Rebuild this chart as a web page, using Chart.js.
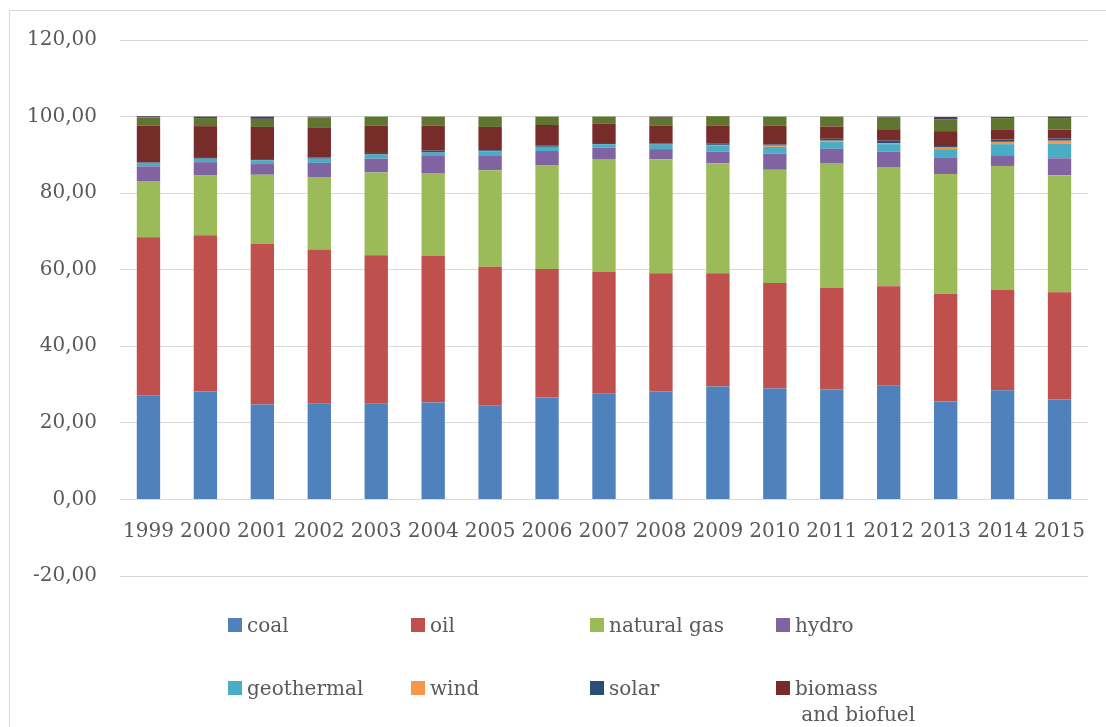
<!DOCTYPE html>
<html lang="en">
<head>
  <meta charset="UTF-8">
  <title>Energy mix 1999-2015</title>
  <script src="https://cdn.jsdelivr.net/npm/chart.js"></script>
  <style>
    body {
      margin: 0;
      background: #fff;
      font-family: "DejaVu Serif", serif;
    }
    #wrap {
      position: relative;
      width: 1106px;
      height: 727px;
      overflow: hidden;
    }
    #frame {
      position: absolute;
      left: 9px;
      top: 10px;
      width: 1200px;
      height: 760px;
      border: 1px solid #d9d9d9;
    }
    #chart {
      position: absolute;
      left: 0;
      top: 0;
    }
    .legend-item {
      position: absolute;
      font-size: 20px;
      color: #595959;
      line-height: 26px;
      white-space: nowrap;
    }
    .legend-item .box {
      position: absolute;
      left: 0;
      top: 6px;
      width: 14px;
      height: 14px;
    }
    .legend-item .txt {
      display: block;
      margin-left: 19px;
    }
  </style>
</head>
<body>

<div id="wrap">
  <div id="frame"></div>
  <canvas id="chart" width="1106" height="727"></canvas>
  <div id="legend"></div>
</div>

<script>
const years = ['1999','2000','2001','2002','2003','2004','2005','2006','2007','2008','2009','2010','2011','2012','2013','2014','2015'];

const coal       = [27.2, 28.2, 24.8, 25.0, 25.0, 25.3, 24.5, 26.6, 27.6, 28.2, 29.5, 29.0, 28.7, 29.7, 25.6, 28.5, 26.1];
const oil        = [41.3, 40.8, 41.9, 40.3, 38.8, 38.3, 36.3, 33.6, 31.8, 30.9, 29.6, 27.5, 26.6, 26.0, 28.1, 26.2, 28.0];
const naturalGas = [14.5, 15.6, 18.1, 18.9, 21.6, 21.5, 25.2, 27.0, 29.5, 29.7, 28.7, 29.6, 32.4, 31.1, 31.3, 32.4, 30.6];
const hydro      = [4.0, 3.5, 2.8, 3.7, 3.6, 4.6, 3.7, 3.8, 3.0, 2.7, 3.0, 4.2, 3.9, 4.0, 4.2, 2.8, 4.4];
const geothermal = [0.9, 0.9, 1.0, 1.1, 1.1, 0.9, 1.2, 1.1, 0.9, 1.2, 1.7, 1.8, 1.8, 2.0, 2.3, 2.9, 3.9];
const wind       = [0.0, 0.0, 0.0, 0.0, 0.0, 0.0, 0.0, 0.0, 0.0, 0.0, 0.1, 0.3, 0.3, 0.3, 0.4, 0.6, 0.7];
const solar      = [0.1, 0.2, 0.3, 0.3, 0.4, 0.5, 0.3, 0.4, 0.3, 0.3, 0.3, 0.3, 0.5, 0.6, 0.4, 0.6, 0.6];
const biomass    = [9.6, 8.3, 8.4, 7.9, 7.1, 6.5, 6.1, 5.3, 5.0, 4.7, 4.8, 4.9, 3.2, 3.0, 3.9, 2.5, 2.3];
const nuclear    = [2.2, 2.1, 2.1, 2.6, 2.4, 2.4, 2.7, 2.2, 1.9, 2.2, 2.4, 2.4, 2.6, 3.0, 3.0, 3.1, 3.0];
const other      = [0.3, 0.4, 0.6, 0.2, 0.0, 0.0, 0.0, 0.0, 0.0, 0.1, 0.0, 0.0, 0.0, 0.3, 0.7, 0.3, 0.4];

const yTicks = { min: -20, max: 120, step: 20 };

// series shown in the legend (the last two are cut off in the original)
const series = [
  { label: 'coal', data: coal, color: '#4f81bd', legend: true },
  { label: 'oil', data: oil, color: '#c0504d', legend: true },
  { label: 'natural gas', data: naturalGas, color: '#9bbb59', legend: true },
  { label: 'hydro', data: hydro, color: '#8064a2', legend: true },
  { label: 'geothermal', data: geothermal, color: '#4bacc6', legend: true },
  { label: 'wind', data: wind, color: '#f79646', legend: true },
  { label: 'solar', data: solar, color: '#2c4d75', legend: true },
  { label: 'biomass and biofuel', data: biomass, color: '#772c2a', legend: true },
  { label: 'nuclear', data: nuclear, color: '#5f7530', legend: false },
  { label: 'other', data: other, color: '#4d3b62', legend: false }
];

const fmt = v => v.toFixed(2).replace('.', ',');

new Chart(document.getElementById('chart'), {
  type: 'bar',
  data: {
    labels: years,
    datasets: series.map(s => ({
      label: s.label,
      data: s.data,
      backgroundColor: s.color,
      borderWidth: 0,
      barPercentage: 1,
      categoryPercentage: 0.41
    }))
  },
  options: {
    responsive: false,
    animation: false,
    layout: { padding: { left: 0, right: 18, top: 40, bottom: 151 } },
    plugins: {
      legend: { display: false },
      tooltip: { enabled: false }
    },
    scales: {
      x: {
        stacked: true,
        position: { y: 0 },
        grid: { display: false, drawTicks: false },
        border: { display: false },
        ticks: {
          color: '#595959',
          font: { family: 'DejaVu Serif', size: 20 },
          padding: 20,
          maxRotation: 0,
          autoSkip: false
        }
      },
      y: {
        stacked: true,
        min: yTicks.min,
        max: yTicks.max,
        afterFit: scale => { scale.width = 120; },
        grid: { color: '#d9d9d9', lineWidth: 1, drawTicks: false },
        border: { display: false },
        ticks: {
          stepSize: yTicks.step,
          color: '#595959',
          font: { family: 'DejaVu Serif', size: 20 },
          padding: 23,
          callback: v => fmt(v)
        }
      }
    }
  }
});

// legend laid out like the spreadsheet one: 4 columns, 2 rows
const colX = [228, 411, 590, 776];
const rowY = [612, 675];
const legendDiv = document.getElementById('legend');
series.filter(s => s.legend).forEach((s, i) => {
  const item = document.createElement('div');
  item.className = 'legend-item';
  item.style.left = colX[i % 4] + 'px';
  item.style.top = rowY[Math.floor(i / 4)] + 'px';
  const text = s.label === 'biomass and biofuel' ? 'biomass<br>&nbsp;and biofuel' : s.label;
  item.innerHTML = `<span class="box" style="background:${s.color}"></span><span class="txt">${text}</span>`;
  legendDiv.appendChild(item);
});
</script>

</body>
</html>
